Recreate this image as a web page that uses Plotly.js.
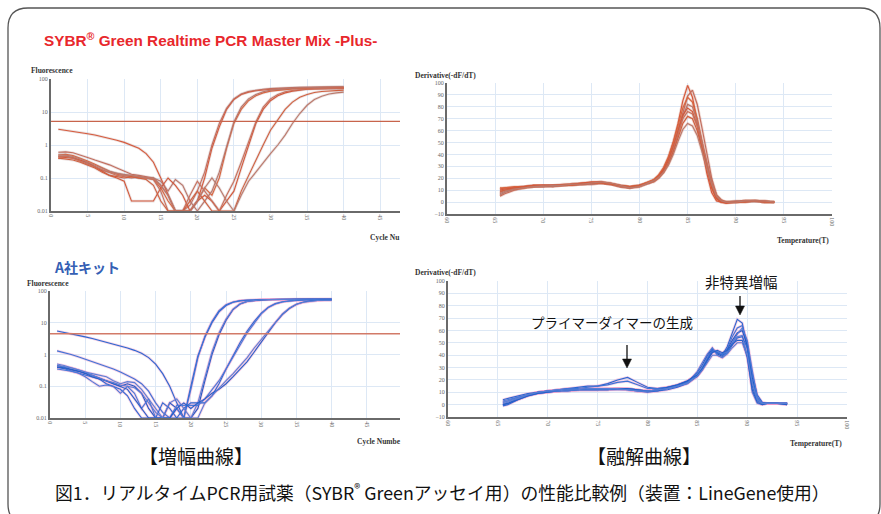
<!DOCTYPE html>
<html>
<head>
<meta charset="utf-8">
<script src="https://cdn.plot.ly/plotly-3.0.1.min.js"></script>
<style>html,body{margin:0;padding:0;background:#fff;}#chart{width:881px;height:514px;}</style>
</head>
<body>
<div id="chart"></div>
<script>
// ---------------- DATA ----------------
const cycles = [1,2,3,4,5,6,7,8,9,10,11,12,13,14,15,16,17,18,19,20,21,22,23,24,25,26,27,28,29,30,31,32,33,34,35,36,37,38,39,40];

// SYBR Green Realtime PCR Master Mix -Plus- : amplification curves
const ampPlus1 = [3.0,2.8,2.6,2.4,2.2,2.0,1.8,1.6,1.4,1.2,1.0,0.8,0.55,0.3,0.1,0.03,0.01,0.01,0.01,0.02,0.1,0.8,3.5,12,24,34,40,44,47,49,50,51,52,53,53,54,54,55,55,55];
const ampPlus2 = [0.6,0.62,0.58,0.5,0.42,0.35,0.3,0.25,0.2,0.16,0.13,0.12,0.11,0.1,0.06,0.03,0.01,0.01,0.015,0.04,0.15,1.0,4.5,13,25,35,42,46,49,51,53,54,55,56,57,57,58,58,58,58];
const ampPlus3 = [0.5,0.52,0.48,0.4,0.33,0.26,0.2,0.16,0.13,0.12,0.11,0.1,0.1,0.09,0.05,0.02,0.01,0.01,0.01,0.02,0.05,0.03,0.1,0.8,4.5,12,22,31,38,43,46,48,50,51,52,52,53,53,53,53];
const ampPlus4 = [0.45,0.46,0.42,0.35,0.28,0.22,0.17,0.15,0.14,0.13,0.12,0.11,0.1,0.1,0.08,0.04,0.09,0.06,0.02,0.01,0.02,0.04,0.15,0.9,5,14,25,34,41,46,49,51,53,54,55,56,57,58,58,58];
const ampPlus5 = [0.4,0.42,0.4,0.35,0.3,0.22,0.16,0.12,0.1,0.08,0.02,0.02,0.02,0.02,0.05,0.1,0.06,0.03,0.01,0.02,0.03,0.02,0.01,0.02,0.04,0.2,0.9,4.5,12,22,31,38,43,47,49,50,51,52,52,52];
const ampPlus6 = [0.45,0.45,0.4,0.32,0.26,0.22,0.18,0.15,0.12,0.11,0.1,0.11,0.1,0.09,0.04,0.01,0.01,0.01,0.03,0.08,0.04,0.02,0.01,0.03,0.08,0.3,1.2,5,14,25,34,41,45,48,50,51,52,53,53,53];
const ampPlus7 = [0.4,0.38,0.35,0.3,0.25,0.2,0.15,0.12,0.11,0.1,0.11,0.1,0.09,0.06,0.02,0.01,0.01,0.01,0.02,0.04,0.02,0.01,0.01,0.01,0.01,0.04,0.12,0.35,1.0,2.8,6,12,20,28,34,39,42,44,45,46];
const ampPlus8 = [0.5,0.5,0.45,0.38,0.3,0.24,0.19,0.16,0.14,0.12,0.12,0.11,0.1,0.1,0.06,0.03,0.01,0.01,0.01,0.02,0.05,0.1,0.05,0.02,0.01,0.03,0.08,0.15,0.3,0.55,1.0,2.0,4.5,9,16,24,30,35,38,40];
const thresholdPlus = 5.2;

// A社キット : amplification curves
const ampA1 = [5.5,5.0,4.5,4.0,3.6,3.2,2.8,2.5,2.2,1.9,1.6,1.35,1.1,0.8,0.5,0.25,0.1,0.03,0.01,0.1,0.9,3.5,10,22,35,44,49,51,52,53,53,54,54,54,55,55,55,55,55,55];
const ampA2 = [1.3,1.15,1.0,0.85,0.72,0.6,0.5,0.42,0.35,0.28,0.22,0.17,0.12,0.07,0.03,0.015,0.01,0.01,0.01,0.08,0.8,3.8,11,24,37,45,50,52,53,54,54,55,55,55,55,56,56,56,56,56];
const ampA3 = [0.45,0.4,0.33,0.3,0.26,0.22,0.18,0.14,0.12,0.1,0.12,0.1,0.06,0.02,0.01,0.01,0.03,0.02,0.01,0.01,0.02,0.15,1.0,4.2,12,26,39,47,51,53,54,55,55,56,56,56,56,56,56,56];
const ampA4 = [0.5,0.45,0.38,0.32,0.28,0.25,0.22,0.2,0.15,0.12,0.14,0.13,0.08,0.04,0.02,0.01,0.01,0.02,0.01,0.01,0.03,0.2,1.2,4.8,13,27,40,47,51,53,54,54,55,55,55,55,55,55,55,55];
const ampA5 = [0.4,0.36,0.3,0.26,0.22,0.2,0.17,0.12,0.1,0.08,0.05,0.02,0.01,0.01,0.01,0.03,0.02,0.01,0.02,0.03,0.03,0.03,0.05,0.12,0.35,0.9,2.4,5.5,11,20,31,40,46,49,51,52,53,53,53,53];
const ampA6 = [0.35,0.33,0.3,0.26,0.2,0.14,0.1,0.11,0.1,0.06,0.1,0.06,0.02,0.04,0.01,0.01,0.01,0.025,0.025,0.025,0.025,0.04,0.08,0.15,0.35,0.8,2.0,4.8,10,19,30,39,45,49,51,52,53,53,53,53];
const ampA7 = [0.4,0.38,0.34,0.3,0.25,0.2,0.17,0.15,0.12,0.1,0.08,0.04,0.02,0.01,0.01,0.01,0.01,0.02,0.03,0.02,0.03,0.04,0.06,0.08,0.12,0.2,0.35,0.6,1.2,2.5,5.2,10,18,28,38,45,49,51,52,52];
const ampA8 = [0.45,0.42,0.38,0.33,0.28,0.22,0.18,0.15,0.13,0.11,0.1,0.09,0.06,0.03,0.015,0.01,0.03,0.04,0.02,0.01,0.01,0.03,0.05,0.09,0.15,0.25,0.45,0.8,1.6,3.0,5.8,11,19,29,38,44,48,50,51,51];
const thresholdA = 4.5;

// Melt curves : Master Mix -Plus-
const tempPlus = [65.5,66,67,68,69,70,71,72,73,74,75,76,77,78,79,80,81,81.5,82,82.5,83,83.5,84,84.5,85,85.5,86,86.5,87,87.5,88,88.5,89,90,91,92,93,94];
const meltPlus1 = [11,12,12,13,14,14,14,14,15,15,16,16,15,13,12,14,17,19,22,28,37,50,66,85,98,88,68,45,24,8,1,0,0,0,1,1,0,0];
const meltPlus2 = [8,10,12,13,13,14,14,14,15,15,15,16,15,13,12,14,16,18,21,26,34,46,60,76,89,94,82,62,40,20,6,1,0,0,0,1,0,0];
const meltPlus3 = [12,12,13,13,14,14,13,14,15,16,16,17,15,14,13,14,17,19,23,29,38,50,64,79,88,84,70,50,30,12,3,0,0,0,1,1,0,0];
const meltPlus4 = [6,8,11,12,13,13,13,14,14,15,15,16,15,13,12,13,16,18,21,26,34,45,58,72,82,80,68,50,32,15,4,1,0,1,1,1,0,0];
const meltPlus5 = [10,11,12,13,14,14,14,15,15,16,17,17,16,14,13,14,16,18,22,27,35,46,60,73,79,76,64,47,28,12,3,0,-1,0,1,1,1,0];
const meltPlus6 = [5,7,10,12,13,14,14,14,15,15,16,16,15,13,12,13,16,17,20,25,33,44,57,70,76,74,64,49,32,17,6,2,0,0,1,1,0,0];
const meltPlus7 = [9,10,11,12,13,13,14,14,14,15,16,16,15,14,13,14,16,18,21,25,32,42,54,66,72,70,60,45,29,14,4,1,0,0,0,1,0,0];
const meltPlus8 = [7,9,11,12,13,13,14,14,15,15,16,17,16,14,12,13,16,18,21,25,31,40,51,61,66,64,56,43,29,15,5,1,0,0,1,1,1,0];

// Melt curves : A社キット
const tempA = [65.5,66,67,68,69,70,71,72,73,74,75,76,77,78,79,80,81,82,83,84,84.5,85,85.5,86,86.5,87,87.5,88,88.5,89,89.5,90,90.5,91,91.5,92,93,94];
const meltA1 = [4,5,7,9,10,11,12,13,14,15,15,17,20,22,18,14,13,14,16,19,21,24,30,38,45,42,40,47,58,69,66,45,15,3,1,1,1,1];
const meltA2 = [2,3,6,8,10,11,12,13,13,14,15,16,18,19,16,13,13,14,15,18,21,23,28,35,43,43,41,45,55,62,64,50,20,4,1,1,1,0];
const meltA3 = [0,1,5,8,10,11,11,12,12,12,12,12,13,13,12,11,11,13,15,19,22,26,32,40,45,41,39,44,52,58,60,48,22,6,1,1,1,1];
const meltA4 = [1,2,5,8,10,11,12,12,12,12,12,13,13,13,12,11,12,13,15,18,21,25,31,38,44,43,40,43,50,55,56,40,10,1,0,1,1,1];
const meltA5 = [-1,0,4,7,9,10,11,11,12,12,12,12,12,12,11,10,11,12,14,17,20,23,29,37,44,42,40,42,48,54,55,46,25,8,2,1,1,1];
const meltA6 = [3,4,6,8,9,10,11,11,12,12,12,12,13,12,11,11,12,13,15,18,22,27,34,41,46,40,38,42,50,57,62,52,28,6,1,1,1,1];
const meltA7 = [0,1,4,7,9,10,11,12,12,13,13,13,13,13,12,11,12,14,16,19,22,24,29,36,42,44,42,44,49,52,52,38,12,2,0,1,1,0];
const meltA8 = [2,3,5,8,10,11,11,12,12,13,13,13,13,12,11,11,12,13,15,17,20,23,28,34,40,40,38,41,46,50,50,40,18,4,1,1,1,1];

const ampTicks = [0.01,0.1,1,10,100];
const ampTickText = ['0.01','0.1','1','10','100'];

// ---------------- BUILD ----------------
const W = 881, H = 514;
const px = v => v / W;
const py = v => 1 - v / H;

const redCols = ['#d65a3c','#c26e5e','#d8653f','#b9766a','#d3583a','#c8705c','#d0603f','#bb7a6c'];
const blueCols = ['#2a68d0','#3f74d6','#2458c2','#5c80d6','#2f6ad2','#4a7ad8','#2660c8','#587ed4'];

const traces = [];
function addSet(xs, ys, cols, xa, ya, halo, w) {
  ys.forEach((y, i) => {
    traces.push({x: xs, y: y, xaxis: xa, yaxis: ya, type: 'scatter', mode: 'lines',
      line: {color: halo, width: w + 1.6}, hoverinfo: 'skip'});
  });
  ys.forEach((y, i) => {
    traces.push({x: xs, y: y, xaxis: xa, yaxis: ya, type: 'scatter', mode: 'lines',
      line: {color: cols[i % cols.length], width: w}, hoverinfo: 'skip'});
  });
}
addSet(cycles, [ampPlus1,ampPlus2,ampPlus3,ampPlus4,ampPlus5,ampPlus6,ampPlus7,ampPlus8], redCols, 'x', 'y', 'rgba(170,130,130,0.25)', 1.1);
addSet(tempPlus, [meltPlus1,meltPlus2,meltPlus3,meltPlus4,meltPlus5,meltPlus6,meltPlus7,meltPlus8], redCols, 'x2', 'y2', 'rgba(200,110,90,0.25)', 1.2);
addSet(cycles, [ampA1,ampA2,ampA3,ampA4,ampA5,ampA6,ampA7,ampA8], blueCols, 'x3', 'y3', 'rgba(235,150,200,0.45)', 1.1);
addSet(tempA, [meltA1,meltA2,meltA3,meltA4,meltA5,meltA6,meltA7,meltA8], blueCols, 'x4', 'y4', 'rgba(235,150,200,0.45)', 1.1);

const tickF = {family: 'Liberation Serif, DejaVu Serif, serif', size: 6, color: '#666'};
const baseAx = {showline: true, linecolor: '#6a6a6a', linewidth: 2, showgrid: true, gridcolor: '#dde8f5', gridwidth: 1,
  zeroline: false, tickfont: tickF, ticks: '', fixedrange: true};
const xAx = (dom, range, anchor, d0) => Object.assign({}, baseAx, {domain: dom, range: range, anchor: anchor,
  tick0: d0, dtick: 5, tickangle: 90});
const yLin = (dom, anchor) => Object.assign({}, baseAx, {domain: dom, range: [-10, 100], anchor: anchor, tick0: 0, dtick: 10});
const yLog = (dom, anchor) => Object.assign({}, baseAx, {domain: dom, type: 'log', range: [-2, 2], anchor: anchor,
  tickvals: ampTicks, ticktext: ampTickText});

const axTitleF = {family: 'Liberation Serif, DejaVu Serif, serif', size: 7.5, color: '#333'};
const ann = (x, y, text, font, xanchor) => ({xref: 'paper', yref: 'paper', x: px(x), y: py(y), text: text,
  showarrow: false, font: font, xanchor: xanchor || 'left', yanchor: 'middle'});
const jp = 'Noto Sans CJK JP, sans-serif';

function arrow(x, y0, y1) {
  return [
    {type: 'line', xref: 'paper', yref: 'paper', x0: px(x), x1: px(x), y0: py(y0), y1: py(y1 - 8), line: {color: '#111', width: 1.3}},
    {type: 'path', xref: 'paper', yref: 'paper', fillcolor: '#111', line: {color: '#111', width: 0.5},
      path: `M ${px(x-4.5)} ${py(y1-9)} L ${px(x+4.5)} ${py(y1-9)} L ${px(x)} ${py(y1)} Z`}
  ];
}

const R = 20, L0 = 8, R0 = 880, T0 = 8, B0 = 524;
const border = `M ${px(L0+R)} ${py(T0)} L ${px(R0-R)} ${py(T0)} Q ${px(R0)} ${py(T0)} ${px(R0)} ${py(T0+R)} L ${px(R0)} ${py(B0-R)} Q ${px(R0)} ${py(B0)} ${px(R0-R)} ${py(B0)} L ${px(L0+R)} ${py(B0)} Q ${px(L0)} ${py(B0)} ${px(L0)} ${py(B0-R)} L ${px(L0)} ${py(T0+R)} Q ${px(L0)} ${py(T0)} ${px(L0+R)} ${py(T0)} Z`;

const layout = {
  width: W, height: H, margin: {l: 0, r: 0, t: 0, b: 0},
  paper_bgcolor: '#ffffff', plot_bgcolor: '#ffffff', showlegend: false,
  xaxis: xAx([px(51), px(400)], [0, 47.7], 'y', 0),
  yaxis: yLog([py(211), py(79)], 'x'),
  xaxis2: xAx([px(447), px(832)], [60, 100], 'y2', 60),
  yaxis2: yLin([py(214), py(83)], 'x2'),
  xaxis3: xAx([px(50), px(400)], [0, 49.7], 'y3', 0),
  yaxis3: yLog([py(418), py(291)], 'x3'),
  xaxis4: xAx([px(448), px(847)], [60, 100], 'y4', 60),
  yaxis4: yLin([py(417), py(281)], 'x4'),
  shapes: [
    {type: 'path', xref: 'paper', yref: 'paper', path: border, line: {color: '#555', width: 1.3}, layer: 'below'},
    {type: 'line', xref: 'x domain', yref: 'y', x0: 0, x1: 1, y0: thresholdPlus, y1: thresholdPlus, line: {color: '#c8644c', width: 1.3}},
    {type: 'line', xref: 'x3 domain', yref: 'y3', x0: 0, x1: 1, y0: thresholdA, y1: thresholdA, line: {color: '#d27a68', width: 1.3}},
    ...arrow(740, 296, 315),
    ...arrow(627, 345, 368)
  ],
  annotations: [
    ann(42, 40, 'SYBR<sup>®</sup> Green Realtime PCR Master Mix -Plus-', {family: 'Liberation Sans, Arial, sans-serif', size: 15.3, color: '#e8272c', weight: 'bold'}),
    ann(52, 267, 'A社キット', {family: jp, size: 14, color: '#3560b4', weight: 'bold'}),
    ann(29, 71, '<b>Fluorescence</b>', axTitleF),
    ann(368, 237, '<b>Cycle Nu</b>', axTitleF),
    ann(413, 75, '<b>Derivative(-dF/dT)</b>', axTitleF),
    ann(775, 240, '<b>Temperature(T)</b>', axTitleF),
    ann(25, 283, '<b>Fluorescence</b>', axTitleF),
    ann(355, 441, '<b>Cycle Numbe</b>', axTitleF),
    ann(413, 272, '<b>Derivative(-dF/dT)</b>', axTitleF),
    ann(788, 443, '<b>Temperature(T)</b>', axTitleF),
    ann(741, 281, '非特異増幅', {family: jp, size: 14.5, color: '#111'}, 'center'),
    ann(612, 322, 'プライマーダイマーの生成', {family: jp, size: 13.5, color: '#111'}, 'center'),
    ann(196, 455, '【増幅曲線】', {family: jp, size: 19, color: '#111'}, 'center'),
    ann(644, 455, '【融解曲線】', {family: jp, size: 19, color: '#111'}, 'center'),
    ann(443, 492, '図1．リアルタイムPCR用試薬（SYBR<sup>®</sup> Greenアッセイ用）の性能比較例（装置：LineGene使用）', {family: jp, size: 17.8, color: '#111', weight: 'normal'}, 'center')
  ]
};

Plotly.newPlot('chart', traces, layout, {staticPlot: true, displayModeBar: false});
</script>
</body>
</html>
